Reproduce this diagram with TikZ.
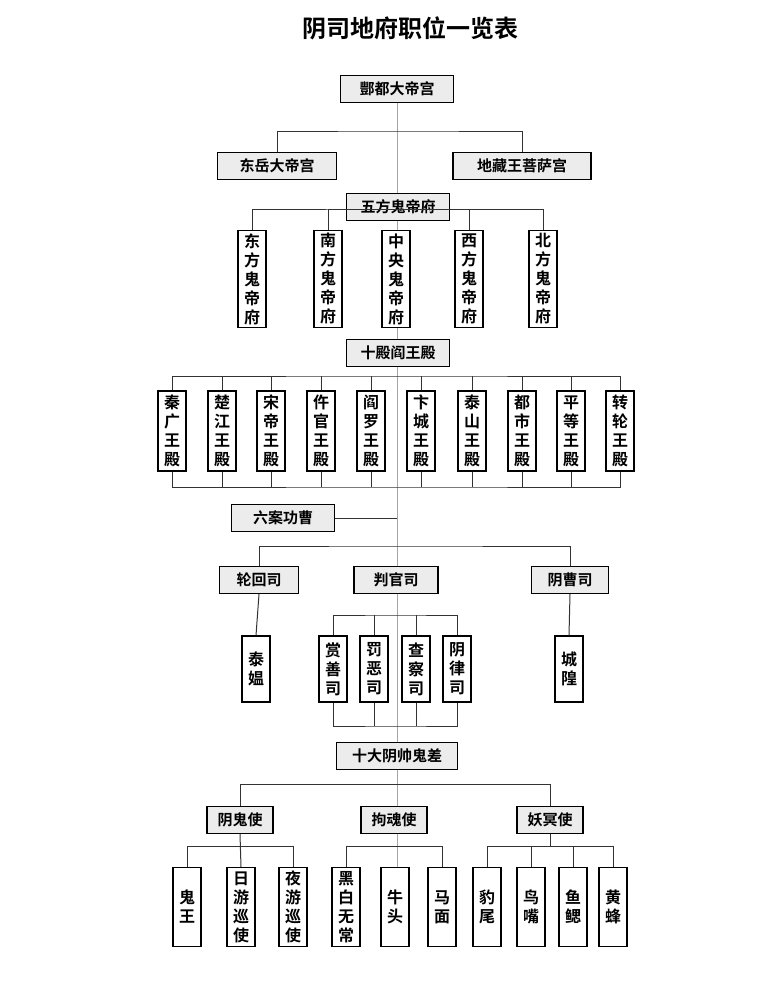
\documentclass[tikz,border=0pt]{standalone}
\usepackage{fontspec}
\newfontfamily\cjk{Noto Sans CJK SC}[BoldFont={* Bold}]
\usetikzlibrary{positioning}
\tikzstyle{hbox} = [draw=black, line width=1.1pt, fill=gray!15, minimum width=100pt, minimum height=27pt, inner sep=0pt, font=\cjk\bfseries\fontsize{15}{18}\selectfont]
\tikzstyle{vbox} = [draw=black, line width=1.1pt, fill=white, minimum width=28pt, inner sep=0pt, align=center, font=\cjk\bfseries\fontsize{16}{19}\selectfont]
\tikzstyle{link} = [draw=black!80, line width=1pt]
\tikzstyle{spine} = [draw=gray!70, line width=0.5pt]

\begin{document}
\begin{tikzpicture}[x=1pt, y=-1pt]
	\useasboundingbox[fill=white] (0,0) rectangle (777,993);
	
	% title
	\node[font=\cjk\bfseries\fontsize{24}{28}\selectfont] (title) at (410,28) {阴司地府职位一览表};
	
	% spine
	\coordinate (spinetop) at (397,103);
	\coordinate (spinebot) at (397,868);
	\draw[spine] (spinetop) -- (spinebot);
	
	% top
	\node[hbox, minimum width=113pt] (fengdu) at (397,89) {酆都大帝宫};
	\node[hbox, minimum width=119pt] (dongyue) at (277,166) {东岳大帝宫};
	\node[hbox, minimum width=138pt] (dizang) at (522,166) {地藏王菩萨宫};
	\coordinate (barA) at (397,131);
	\draw[link] (dongyue.north) |- (barA) -| (dizang.north);
	
	% five ghost emperors
	\node[hbox, minimum width=103pt] (wufang) at (398,207) {五方鬼帝府};
	\foreach \x/\t [count=\i] in {252/{东\\方\\鬼\\帝\\府}, 328/{南\\方\\鬼\\帝\\府}, 396/{中\\央\\鬼\\帝\\府}, 469/{西\\方\\鬼\\帝\\府}, 543/{北\\方\\鬼\\帝\\府}}
		\node[vbox, minimum height=97pt] (wf\i) at (\x,279) {\t};
	\coordinate (barB) at (398,209);
	\draw[link] (wf1.north) |- (barB) -| (wf5.north);
	\draw[link] (wf2.north) |- (barB);
	\draw[link] (wf4.north) |- (barB);
	
	% ten halls
	\node[hbox, minimum width=103pt] (shidian) at (398,353) {十殿阎王殿};
	\foreach \x/\t [count=\i] in {172/{秦\\广\\王\\殿}, 222/{楚\\江\\王\\殿}, 271/{宋\\帝\\王\\殿}, 321/{仵\\官\\王\\殿}, 371/{阎\\罗\\王\\殿}, 421/{卞\\城\\王\\殿}, 472/{泰\\山\\王\\殿}, 522/{都\\市\\王\\殿}, 571/{平\\等\\王\\殿}, 620/{转\\轮\\王\\殿}}
		\node[vbox, minimum height=80pt] (sd\i) at (\x,431) {\t};
	\coordinate (barC) at (397,376);
	\coordinate (barD) at (397,487);
	\draw[link] (sd1.north) |- (barC) -| (sd10.north);
	\draw[link] (sd1.south) |- (barD) -| (sd10.south);
	\foreach \i in {2,...,9} {
		\draw[link] (sd\i.north) -- (sd\i.north |- barC);
		\draw[link] (sd\i.south) -- (sd\i.south |- barD);
	}
	
	% six cases
	\node[hbox, minimum width=103pt] (liuan) at (283,518) {六案功曹};
	\draw[link] (liuan.east) -- (liuan.east -| spinetop);
	\node[hbox, minimum width=79pt] (lunhui) at (259,580) {轮回司};
	\node[hbox, minimum width=84pt] (panguan) at (396,580) {判官司};
	\node[hbox, minimum width=77pt] (yincao) at (570,580) {阴曹司};
	\coordinate (barE) at (397,546);
	\draw[link] (lunhui.north) |- (barE) -| (yincao.north);
	\node[vbox, minimum height=66pt] (taiao) at (256,669) {泰\\媪};
	\node[vbox, minimum height=66pt] (chenghuang) at (569,669) {城\\隍};
	\draw[link] (lunhui.south) -- (taiao.north);
	\draw[link] (yincao.south) -- (chenghuang.north);
	\foreach \x/\t [count=\i] in {333/{赏\\善\\司}, 374/{罚\\恶\\司}, 416/{查\\察\\司}, 457/{阴\\律\\司}}
		\node[vbox, minimum height=66pt] (pg\i) at (\x,669) {\t};
	\coordinate (barF) at (396,615);
	\coordinate (barG) at (396,726);
	\draw[link] (pg1.north) |- (barF) -| (pg4.north);
	\draw[link] (pg1.south) |- (barG) -| (pg4.south);
	\foreach \i in {2,3} {
		\draw[link] (pg\i.north) -- (pg\i.north |- barF);
		\draw[link] (pg\i.south) -- (pg\i.south |- barG);
	}
	
	% ten ghost officers
	\node[hbox, minimum width=121pt] (shida) at (397,756) {十大阴帅鬼差};
	\node[hbox, minimum width=66pt] (yingui) at (240,820) {阴鬼使};
	\node[hbox, minimum width=66pt] (gouhun) at (394,820) {拘魂使};
	\node[hbox, minimum width=66pt] (yaoming) at (550,820) {妖冥使};
	\coordinate (barH) at (397,784);
	\draw[link] (yingui.north) |- (barH) -| (yaoming.north);
	
	\foreach \x/\t [count=\i] in {187/{鬼\\王}, 241/{日\\游\\巡\\使}, 293/{夜\\游\\巡\\使}}
		\node[vbox, minimum height=79pt] (yg\i) at (\x,907) {\t};
	\foreach \x/\t [count=\i] in {346/{黑\\白\\无\\常}, 395/{牛\\头}, 442/{马\\面}}
		\node[vbox, minimum height=79pt] (gh\i) at (\x,907) {\t};
	\foreach \x/\t [count=\i] in {487/{豹\\尾}, 531/{鸟\\嘴}, 573/{鱼\\鳃}, 613/{黄\\蜂}}
		\node[vbox, minimum height=79pt] (ym\i) at (\x,907) {\t};
	\coordinate (barI) at (240,846);
	\draw[link] (yg1.north) |- (barI) -| (yg3.north);
	\draw[link] (yingui.south) -- (yg2.north);
	\coordinate (barJ) at (394,846);
	\draw[link] (gh1.north) |- (barJ) -| (gh3.north);
	\coordinate (barK) at (550,846);
	\draw[link] (ym1.north) |- (barK) -| (ym4.north);
	\draw[link] (ym2.north) -- (ym2.north |- barK);
	\draw[link] (ym3.north) -- (ym3.north |- barK);
	\draw[link] (yaoming.south) -- (yaoming.south |- barK);
	
\end{tikzpicture}
\end{document}
